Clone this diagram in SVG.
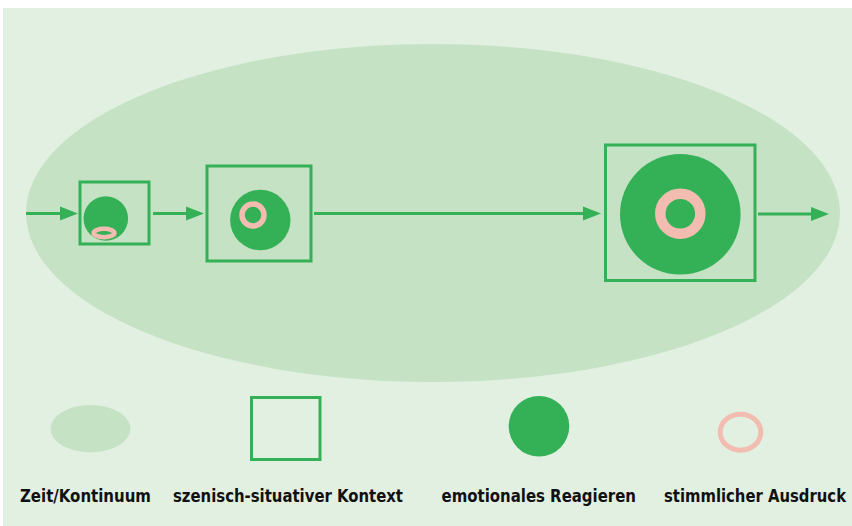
<svg xmlns="http://www.w3.org/2000/svg" width="852" height="526" viewBox="0 0 852 526">
  <defs>
    <style>
      .ctx { fill: none; stroke: #34b157; stroke-width: 3; }
      .emo { fill: #34b157; }
      .voc { fill: none; stroke: #f3bcb0; }
      .conn { stroke: #34b157; stroke-width: 3; fill: none; }
      .head { fill: #34b157; }
      .lbl { font-family: "Liberation Sans Narrow", "DejaVu Sans Condensed", "Liberation Sans", sans-serif; font-weight: bold; font-size: 18.5px; fill: #111; }
    </style>
  </defs>
  <rect x="3" y="8" width="849" height="518" fill="#e2f0e2"/>
  <g id="zeit">
    <ellipse cx="433" cy="213" rx="407" ry="169" fill="#c5e2c4"/>
  </g>
  <g id="connectors">
    <line class="conn" x1="26" y1="213.5" x2="62" y2="213.5"/>
    <polygon class="head" points="60,206.5 78,213.5 60,220.5"/>
    <line class="conn" x1="153" y1="213.5" x2="188" y2="213.5"/>
    <polygon class="head" points="186,206.5 204,213.5 186,220.5"/>
    <line class="conn" x1="314" y1="213.5" x2="585" y2="213.5"/>
    <polygon class="head" points="583,206.5 601,213.5 583,220.5"/>
    <line class="conn" x1="758" y1="214" x2="813" y2="214"/>
    <polygon class="head" points="811,207 829,214 811,221"/>
  </g>
  <g id="node1">
    <rect class="ctx" x="80" y="182" width="69" height="62"/>
    <circle class="emo" cx="105.8" cy="218.5" r="22.3"/>
    <ellipse class="voc" cx="104" cy="233" rx="10.4" ry="4.2" stroke-width="4.6"/>
  </g>
  <g id="node2">
    <rect class="ctx" x="207" y="166" width="104" height="95"/>
    <circle class="emo" cx="260.3" cy="220" r="30.2"/>
    <circle class="voc" cx="253" cy="215" r="11" stroke-width="5.5"/>
  </g>
  <g id="node3">
    <rect class="ctx" x="605.5" y="145" width="149.5" height="135.5"/>
    <circle class="emo" cx="680.3" cy="214.3" r="60.3"/>
    <circle class="voc" cx="680.3" cy="213.7" r="20" stroke-width="10.5"/>
  </g>
  <g id="legend-zeit">
    <ellipse cx="90.5" cy="428.7" rx="40" ry="23.7" fill="#c5e2c4"/>
    <text class="lbl" x="20" y="502" textLength="131" lengthAdjust="spacingAndGlyphs">Zeit/Kontinuum</text>
  </g>
  <g id="legend-kontext">
    <rect class="ctx" x="251.5" y="397.5" width="68.5" height="62"/>
    <text class="lbl" x="173" y="502" textLength="230" lengthAdjust="spacingAndGlyphs">szenisch-situativer Kontext</text>
  </g>
  <g id="legend-emotion">
    <circle class="emo" cx="539" cy="426.2" r="30.3"/>
    <text class="lbl" x="441.5" y="502" textLength="194.5" lengthAdjust="spacingAndGlyphs">emotionales Reagieren</text>
  </g>
  <g id="legend-ausdruck">
    <ellipse class="voc" cx="740.5" cy="432.2" rx="20.3" ry="18" stroke-width="5"/>
    <text class="lbl" x="664" y="502" textLength="182" lengthAdjust="spacingAndGlyphs">stimmlicher Ausdruck</text>
  </g>
</svg>
